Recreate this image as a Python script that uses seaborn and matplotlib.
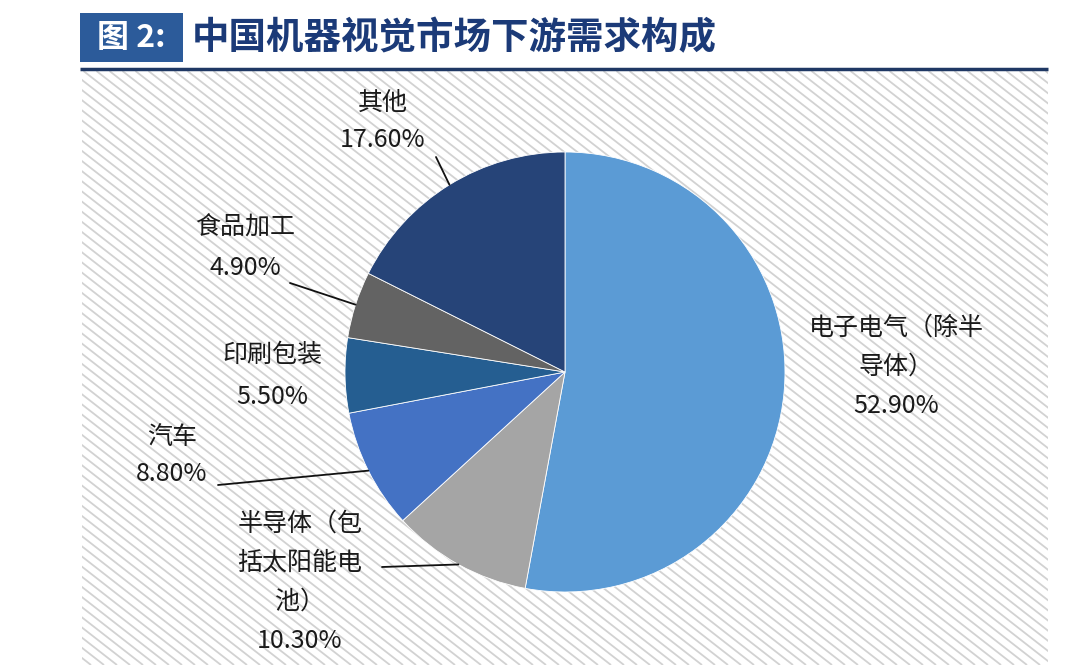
import numpy as np
import matplotlib
matplotlib.use("Agg")
import matplotlib.pyplot as plt
import seaborn as sns
from matplotlib.patches import Rectangle
from matplotlib.collections import LineCollection

# ---- data ----
categories = ["电子电气（除半导体）", "半导体（包括太阳能电池）", "汽车", "印刷包装", "食品加工", "其他"]
values = [52.9, 10.3, 8.8, 5.5, 4.9, 17.6]
label_lines = [
    ["电子电气（除半", "导体）"],
    ["半导体（包", "括太阳能电", "池）"],
    ["汽车"],
    ["印刷包装"],
    ["食品加工"],
    ["其他"],
]
colors = ["#5b9bd5", "#a5a5a5", "#4472c4", "#255e91", "#636363", "#264478"]
title_tag = "图 2:"
title_text = "中国机器视觉市场下游需求构成"

sns.set_theme(style="white")
plt.rcParams['font.family'] = ['Noto Sans CJK SC', 'DejaVu Sans']

W, H = 1080, 665
fig = plt.figure(figsize=(W / 100, H / 100), dpi=100)
ax = fig.add_axes([0, 0, 1, 1])
ax.set_xlim(0, W)
ax.set_ylim(0, H)
ax.set_axis_off()


def Y(y):
    return H - y


# hatched background panel
x0, x1, y0, y1 = 82, 1048, 71, 665
panel = Rectangle((x0, Y(y1)), x1 - x0, y1 - y0, facecolor="white", edgecolor="none", zorder=0)
ax.add_patch(panel)
slope = 0.78
run = (y1 - y0) / slope
segs = []
for c in np.arange(x0 - run - 30, x1 + 20, 13):
    segs.append([(c, Y(y0)), (c + run, Y(y1))])
lc = LineCollection(segs, colors="#d2d2d2", linewidths=1.3, zorder=1)
ax.add_collection(lc)
lc.set_clip_path(panel)

# header
ax.add_patch(Rectangle((80, Y(62)), 103, 49, facecolor="#2c5b9a", edgecolor="none", zorder=3))
ax.text(131, Y(38), title_tag, color="white", fontsize=23, fontweight="bold",
        ha="center", va="center", zorder=4)
ax.text(192, Y(38), title_text, color="#1b3a78", fontsize=27, fontweight="bold",
        ha="left", va="center", zorder=4)
ax.plot([80, 1048], [Y(69), Y(69)], color="#1f3864", lw=2.5, zorder=4, solid_capstyle="butt")

# pie
cx, cy, r = 565, 372, 220
wedges, _ = ax.pie(values, colors=colors, startangle=90, counterclock=False,
                   center=(cx, Y(cy)), radius=r, frame=True,
                   wedgeprops=dict(linewidth=0.6, edgecolor="white"))
for w in wedges:
    w.set_zorder(5)
ax.set_xlim(0, W)
ax.set_ylim(0, H)
ax.set_aspect("auto")
ax.set_axis_off()

# labels: (center x, first line y) in image coords, line gap
label_pos = [(896, 328), (300, 524), (172, 437), (272, 355), (245, 228), (383, 103)]
gaps = [39, 39, 37, 42, 40, 37]
leader_start = [None, (382, 567), (218, 485), None, (290, 283), (436, 157)]
txtc = "#1a1a1a"
for i, (lines, (lx, ly)) in enumerate(zip(label_lines, label_pos)):
    allines = lines + [f"{values[i]:.2f}%"]
    for k, t in enumerate(allines):
        ax.text(lx, Y(ly + k * gaps[i]), t, fontsize=18, color=txtc,
                ha="center", va="center", zorder=6)
    if leader_start[i] is not None:
        w = wedges[i]
        mid = np.deg2rad((w.theta1 + w.theta2) / 2)
        ex, ey = cx + r * np.cos(mid), Y(cy) + r * np.sin(mid)
        sx, sy = leader_start[i]
        ax.plot([sx, ex], [Y(sy), ey], color="#111111", lw=1.3, zorder=6)

fig.savefig("out.png", dpi=100, facecolor="white")
